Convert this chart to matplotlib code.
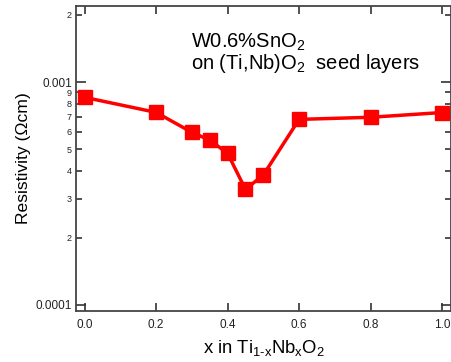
import matplotlib
matplotlib.use("Agg")
from matplotlib import pyplot as plt
from matplotlib import ticker

plt.rcParams['font.family'] = ['Liberation Sans', 'DejaVu Sans']
plt.rcParams['mathtext.fontset'] = 'custom'
plt.rcParams['mathtext.rm'] = 'Liberation Sans'
plt.rcParams['mathtext.it'] = 'Liberation Sans'

# x in Ti(1-x)Nb(x)O2 and resistivity (ohm cm)
nb_fraction = [0.0, 0.2, 0.3, 0.35, 0.4, 0.45, 0.5, 0.6, 0.8, 1.0]
resistivity = [8.54e-4, 7.31e-4, 5.95e-4, 5.49e-4, 4.79e-4, 3.30e-4, 3.83e-4, 6.80e-4, 6.95e-4, 7.30e-4]
x_ticks = [0.0, 0.2, 0.4, 0.6, 0.8, 1.0]

fig = plt.figure(figsize=(4.52, 3.62), dpi=100)
ax = fig.add_axes([0.168, 0.141, 0.830, 0.842])

ax.plot(nb_fraction, resistivity, color='#ff0000', lw=2.5, marker='s', ms=9.5,
        markeredgecolor='#ff0000')

ax.set_yscale('log')
ax.set_ylim(9.4e-5, 2.19e-3)
ax.set_xlim(-0.024, 1.025)

ax.set_xticks(x_ticks)
ax.xaxis.set_major_formatter(ticker.FormatStrFormatter('%.1f'))
ax.yaxis.set_major_locator(ticker.FixedLocator([1e-4, 1e-3]))
ax.yaxis.set_major_formatter(ticker.FixedFormatter(['0.0001', '0.001']))
ax.yaxis.set_minor_locator(ticker.LogLocator(base=10, subs=range(2, 10), numticks=20))
ax.yaxis.set_minor_formatter(ticker.FuncFormatter(
    lambda v, p: '%d' % round(v / 10 ** int(f'{v:e}'.split('e')[1]))))

ax.tick_params(axis='both', which='both', direction='in', top=True, right=True,
               color='#333333', labelcolor='#222222')
ax.tick_params(axis='y', which='major', length=7, width=1.2, labelsize=8.5, pad=3)
ax.tick_params(axis='y', which='minor', length=4, width=1.2, labelsize=6.5, pad=3)
ax.tick_params(axis='x', which='major', length=6, width=1.2, labelsize=8.5, pad=6)

for s in ax.spines.values():
    s.set_color('#444444')
    s.set_linewidth(1.3)

ax.set_ylabel('Resistivity (Ωcm)', fontsize=12.6, labelpad=3)
ax.set_xlabel('x in Ti$_{1\u2010x}$Nb$_x$O$_2$', fontsize=13.3, labelpad=5)

ax.text(0.307, 0.882, 'W0.6%SnO$_2$', transform=ax.transAxes, fontsize=14.5, va='center')
ax.text(0.307, 0.811, 'on (Ti,Nb)O$_2$  seed layers', transform=ax.transAxes,
        fontsize=14.5, va='center')

fig.savefig('out.png', dpi=100)
